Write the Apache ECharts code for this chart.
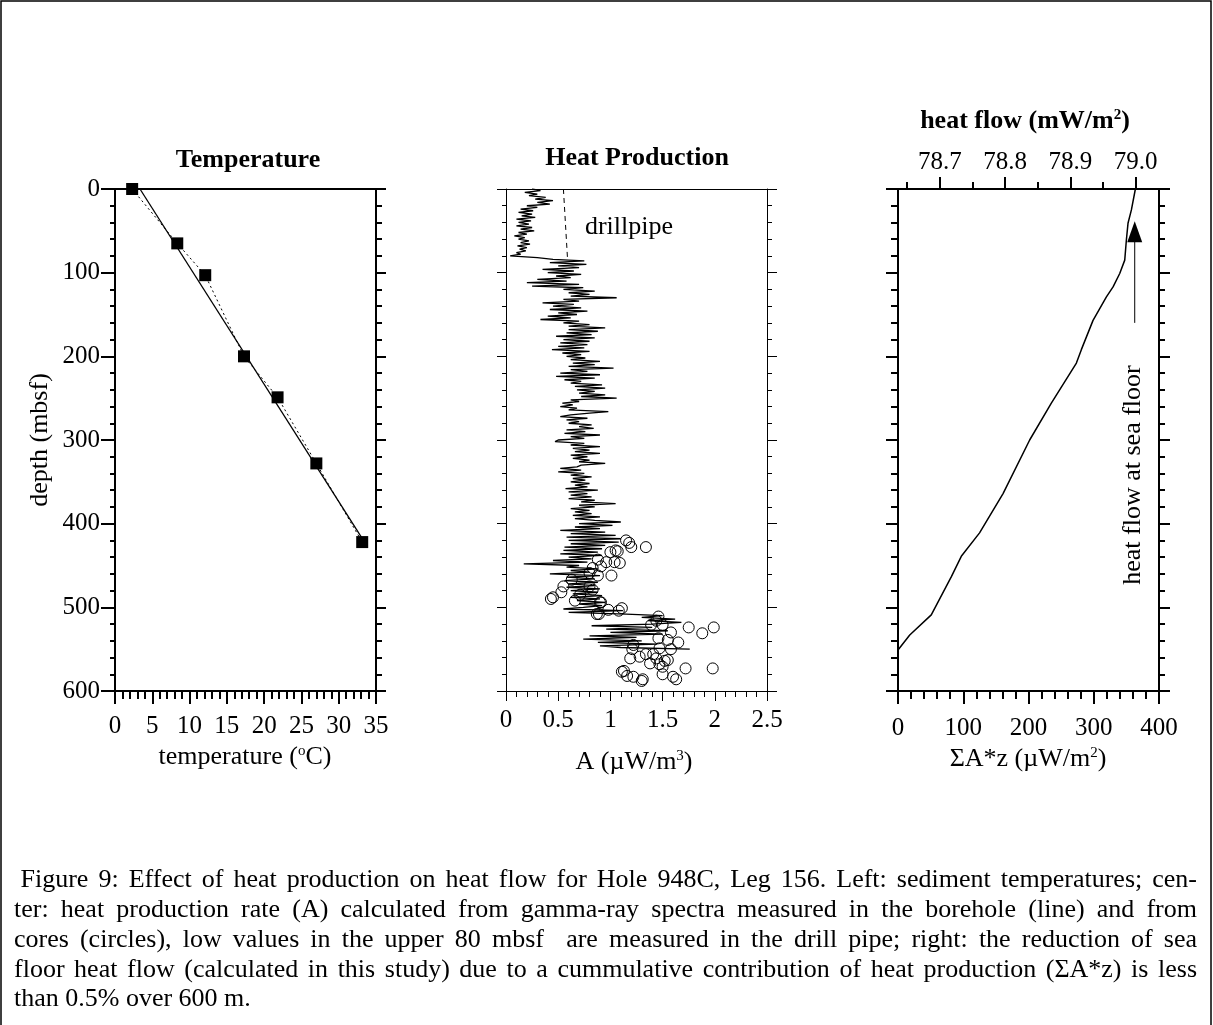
<!DOCTYPE html>
<html><head><meta charset="utf-8">
<script src="https://cdn.jsdelivr.net/npm/echarts@6/dist/echarts.min.js"></script>
<style>html,body{margin:0;padding:0;background:#fff}#c{width:1213px;height:1025px}</style>
</head><body><div id="c"></div>
<script>
// ---------------- DATA ----------------
// Left panel: temperature measurements
const tempC      = [2.3, 8.35, 12.1, 17.3, 21.8, 27.0, 33.15];
const tempDepth  = [0, 65, 103, 200, 249, 328, 422];
// linear fit line
const fitTemp    = [3.35, 33.1];
const fitDepth   = [0, 417];

// Center panel: gamma-ray log heat production (A, uW/m3) vs depth
const logDepth = [
  0,2,4,6,8,10,12,14,16,18, 20,22,24,26,28,30,32,34,36,38,
  40,42,44,46,48,50,52,54,56,58, 60,62,64,66,68,70,72,74,76,78,
  80,82,84,86,88,90,92,94,96,98, 100,102,104,106,108,110,112,114,116,118,
  120,122,124,126,128,130,132,134,136,138, 140,142,144,146,148,150,152,154,156,158,
  160,162,164,166,168,170,172,174,176,178, 180,182,184,186,188,190,192,194,196,198,
  200,202,204,206,208,210,212,214,216,218, 220,222,224,226,228,230,232,234,236,238,
  240,242,244,246,248,250,252,254,256,258, 260,262,264,266,268,270,272,274,276,278,
  280,282,284,286,288,290,292,294,296,298, 300,302,304,306,308,310,312,314,316,318,
  320,322,324,326,328,330,332,334,336,338, 340,342,344,346,348,350,352,354,356,358,
  360,362,364,366,368,370,372,374,376,378, 380,382,384,386,388,390,392,394,396,398,
  400,402,404,406,408,410,412,414,416,418, 420,422,424,426,428,430,432,434,436,438,
  440,442,444,446,448,450,452,454,456,458, 460,462,464,466,468,470,472,474,476,478,
  480,482,484,486,488,490,492,494,496,498, 500,502,504,506,508,510,512,514,516,518,
  520,522,524,526,528,530,532,534,536,538, 540,542,544,546,548,550
];
const logA = [
  0.25,0.33,0.18,0.30,0.22,0.38,0.28,0.45,0.30,0.42, 0.20,0.30,0.14,0.26,0.12,0.25,0.15,0.28,0.10,0.24,
  0.12,0.22,0.10,0.25,0.14,0.27,0.12,0.20,0.08,0.18, 0.12,0.22,0.14,0.23,0.11,0.20,0.13,0.19,0.10,0.14,
  0.04,0.30,0.45,0.75,0.42,0.77,0.50,0.70,0.35,0.65, 0.40,0.72,0.48,0.62,0.30,0.58,0.20,0.70,0.25,0.74,
  0.55,0.85,0.60,0.80,0.62,1.06,0.55,0.70,0.35,0.65, 0.45,0.72,0.42,0.78,0.50,0.68,0.40,0.62,0.33,0.70,
  0.55,0.80,0.60,0.95,0.60,0.88,0.58,0.82,0.48,0.85, 0.55,0.80,0.52,0.78,0.50,0.75,0.44,0.80,0.54,0.72,
  0.58,0.76,0.62,0.90,0.64,0.85,0.60,1.03,0.62,0.78, 0.52,0.90,0.48,0.85,0.56,0.72,0.62,0.92,0.66,0.95,
  0.68,0.85,0.70,0.95,0.72,1.06,0.62,0.70,0.54,0.64, 0.52,0.68,0.60,0.98,0.80,0.62,0.52,0.78,0.58,0.70,
  0.60,0.82,0.70,0.84,0.58,0.76,0.56,0.90,0.62,0.75, 0.50,0.47,0.75,0.62,0.90,0.64,0.80,0.66,0.90,0.62,
  0.78,0.64,0.80,0.70,0.95,0.72,0.68,0.52,0.72,0.50, 0.75,0.62,0.82,0.64,0.76,0.62,0.80,0.66,0.78,0.57,
  0.88,0.60,0.78,0.62,0.82,0.60,0.85,0.72,1.05,0.70, 0.85,0.62,0.80,0.66,0.82,0.64,0.90,0.66,0.85,1.10,
  0.70,1.02,0.66,0.90,0.52,0.95,0.62,1.05,0.58,1.10, 0.60,1.08,0.62,0.95,0.56,0.92,0.55,0.88,0.52,0.92,
  0.60,0.82,0.45,0.78,0.17,0.70,0.58,0.88,0.62,0.80, 0.42,0.90,0.58,0.85,0.56,0.88,0.60,0.85,0.58,0.90,
  0.62,0.88,0.64,0.92,0.62,0.90,0.68,0.95,0.70,0.92, 0.74,0.55,1.12,0.60,1.15,1.50,1.30,1.62,1.36,1.68,
  1.40,0.82,1.40,0.96,1.55,1.00,1.50,0.80,1.25,0.74, 1.30,0.88,1.45,0.90,1.10,1.76
];
// core measurements (circles)
const coreA = [1.15,1.18,1.20,1.34,1.00,1.05,1.07,0.88,0.96,1.04,1.09,0.83,0.91,1.01,0.88,0.80,0.63,0.55,0.45,0.43,
  0.53,0.66,0.71,0.80,0.83,0.90,0.87,0.89,0.98,1.08,1.11,0.91,1.46,1.44,1.39,1.50,1.58,1.75,1.88,1.99,
  1.46,1.55,1.65,1.58,1.22,1.21,1.19,1.28,1.34,1.41,1.47,1.38,1.47,1.55,1.50,1.11,1.13,1.16,1.22,1.30,
  1.31,1.50,1.60,1.63,1.72,1.98,1.44,1.52];
const coreDepth = [420,423,428,428,434,432,433,443,446,446,447,453,451,462,462,459,467,475,488,490,
  482,492,485,475,479,494,508,508,503,504,501,494,511,516,521,521,530,524,531,524,
  537,539,542,550,545,550,561,559,556,556,549,567,568,563,571,577,576,582,583,588,
  586,580,583,586,573,573,561,564];
// drill pipe dashed line
const pipeA = [0.55, 0.59];
const pipeDepth = [0, 85];

// Right panel: cumulative sum A*z (uW/m2) vs depth
const sumAz    = [363.8,357.7,352.5,350,347.5,339.8,329.6,319.4,298.9,281,273.4,235,201.8,161,125,97,82,51,18,0];
const sumDepth = [0,25,41,61,85,101,117,129,157,192,208,256,300,364,411,439,463,509,533,551];
// arrow "heat flow at sea floor"
const arrowS = 362.8;
const arrowDepth = [160, 51];

// axis ticks
const depthTicks = {min:0, max:600, interval:100};
const tempTicks = {min:0, max:35, interval:5};
const aTicks = {min:0, max:2.5, interval:0.5};
const sTicks = {min:0, max:400, interval:100};
const hfMin = 78.636, hfMax = 79.036;
const hfMajor = [78.7, 78.8, 78.9, 79.0];
const hfMinor = [78.65, 78.75, 78.85, 78.95];

// ---------------- CHART ----------------
const FONT = '"Liberation Serif", "Times New Roman", serif';
const BLACK = '#000';
const chart = echarts.init(document.getElementById('c'), null, {renderer: 'canvas'});

const G0 = {left: 115, top: 189, width: 261, height: 502};
const G1 = {left: 506, top: 189, width: 261, height: 502};
const G2 = {left: 898, top: 189, width: 261, height: 502};

function yAx(grid, pos, lw, showLabel, majLen, minLen) {
  return {
    type: 'value', gridIndex: grid, position: pos, inverse: true,
    min: depthTicks.min, max: depthTicks.max, interval: depthTicks.interval,
    axisLine: {show: true, onZero: false, lineStyle: {color: BLACK, width: lw}},
    axisTick: {show: true, inside: false, length: majLen, lineStyle: {color: BLACK, width: lw}},
    minorTick: {show: true, splitNumber: 5, length: minLen, lineStyle: {color: BLACK, width: lw}},
    axisLabel: {show: showLabel, color: BLACK, fontFamily: FONT, fontSize: 25, margin: 15},
    splitLine: {show: false}, minorSplitLine: {show: false}
  };
}
function xBottom(grid, t, lw, majLen, minLen, margin, fmt) {
  return {
    type: 'value', gridIndex: grid, position: 'bottom',
    min: t.min, max: t.max, interval: t.interval,
    axisLine: {show: true, onZero: false, lineStyle: {color: BLACK, width: lw}},
    axisTick: {show: true, inside: false, length: majLen, lineStyle: {color: BLACK, width: lw}},
    minorTick: {show: true, splitNumber: 5, length: minLen, lineStyle: {color: BLACK, width: lw}},
    axisLabel: {show: true, color: BLACK, fontFamily: FONT, fontSize: 25, margin: margin,
      formatter: fmt || null, showMinLabel: true, showMaxLabel: true},
    splitLine: {show: false}, minorSplitLine: {show: false}
  };
}
function xTopLine(grid, t, lw) {
  return {
    type: 'value', gridIndex: grid, position: 'top', min: t.min, max: t.max, interval: t.interval,
    axisLine: {show: true, onZero: false, lineStyle: {color: BLACK, width: lw}},
    axisTick: {show: false}, axisLabel: {show: false}, splitLine: {show: false}
  };
}
function hiddenY(grid) {
  return {type: 'value', gridIndex: grid, show: false, inverse: true, min: 0, max: 600};
}
function zip(a, b) { return a.map((v, i) => [v, b[i]]); }

const sup = {fontSize: 15, fontFamily: FONT, verticalAlign: 'top', padding: [0, 0, 0, 0]};
function txt(x, y, text, size, weight, rot, richSup) {
  const el = {type: 'text', x: x, y: y, z: 100,
    style: {text: text, fontSize: size, fontFamily: FONT, fontWeight: weight || 'normal', fill: BLACK,
      align: 'center', verticalAlign: 'middle'}};
  if (rot) el.rotation = rot;
  if (richSup) el.style.rich = {sup: Object.assign({}, sup, {fontWeight: weight || 'normal'})};
  return el;
}

// Caption, justified
const CAP_SIZE = 26;
const captionLines = [
  ' Figure 9: Effect of heat production on heat flow for Hole 948C, Leg 156. Left: sediment temperatures; cen-',
  'ter: heat production rate (A) calculated from gamma-ray spectra measured in the borehole (line) and from',
  'cores (circles), low values in the upper 80 mbsf  are measured in the drill pipe; right: the reduction of sea',
  'floor heat flow (calculated in this study) due to a cummulative contribution of heat production (\u03A3A*z) is less',
  'than 0.5% over 600 m.'
];
const capY = [880, 910, 940, 970, 999];
const capLeft = 14, capRight = 1197;
const mctx = document.createElement('canvas').getContext('2d');
mctx.font = CAP_SIZE + 'px "Liberation Serif"';
const capEls = [];
captionLines.forEach((line, li) => {
  let left = capLeft;
  const lead = line.match(/^ */)[0].length;
  left += lead * mctx.measureText(' ').width;
  const words = line.replace(/^ +/, '').split(' ');
  const widths = words.map(w => mctx.measureText(w).width);
  const total = widths.reduce((s, v) => s + v, 0);
  const last = li === captionLines.length - 1;
  const gap = last ? mctx.measureText(' ').width : (capRight - left - total) / (words.length - 1);
  let x = left;
  words.forEach((w, i) => {
    if (w.length) capEls.push({type: 'text', x: x, y: capY[li], style: {text: w, fontSize: CAP_SIZE,
      fontFamily: FONT, fill: BLACK, align: 'left', verticalAlign: 'middle'}});
    x += widths[i] + gap;
  });
});

const option = {
  backgroundColor: '#fff',
  animation: false,
  grid: [G0, G1, G2, Object.assign({}, G2), Object.assign({}, G2)],
  xAxis: [
    xBottom(0, tempTicks, 2, 13, 8, 23),
    xTopLine(0, tempTicks, 2),
    xBottom(1, aTicks, 1, 10, 6, 17, v => String(v)),
    xTopLine(1, aTicks, 1),
    xBottom(2, sTicks, 2, 13, 8, 25),
    {
      type: 'value', gridIndex: 3, position: 'top', min: hfMin, max: hfMax,
      axisLine: {show: true, onZero: false, lineStyle: {color: BLACK, width: 2}},
      axisTick: {show: true, inside: false, length: 12, customValues: hfMajor, lineStyle: {color: BLACK, width: 2}},
      axisLabel: {show: true, customValues: hfMajor, color: BLACK, fontFamily: FONT, fontSize: 25, margin: 14,
        formatter: v => v.toFixed(1)},
      splitLine: {show: false}
    },
    {
      type: 'value', gridIndex: 4, position: 'top', min: hfMin, max: hfMax,
      axisLine: {show: false, onZero: false},
      axisTick: {show: true, inside: false, length: 7, customValues: hfMinor, lineStyle: {color: BLACK, width: 2}},
      axisLabel: {show: false}, splitLine: {show: false}
    }
  ],
  yAxis: [
    yAx(0, 'left', 2, true, 14, 5),
    yAx(0, 'right', 2, false, 10, 6),
    yAx(1, 'left', 1, false, 9, 4),
    yAx(1, 'right', 1, false, 10, 5),
    yAx(2, 'left', 2, false, 12, 7),
    yAx(2, 'right', 2, false, 11, 6),
    hiddenY(3),
    hiddenY(4)
  ],
  series: [
    {type: 'line', xAxisIndex: 0, yAxisIndex: 0, data: zip(fitTemp, fitDepth), symbol: 'none',
      lineStyle: {color: BLACK, width: 1.3}, silent: true, z: 2},
    {type: 'line', xAxisIndex: 0, yAxisIndex: 0, data: zip(tempC, tempDepth), symbol: 'none',
      lineStyle: {color: BLACK, width: 1, type: [2, 3]}, silent: true, z: 2},
    {type: 'scatter', xAxisIndex: 0, yAxisIndex: 0, data: zip(tempC, tempDepth), symbol: 'rect', symbolSize: 12,
      itemStyle: {color: BLACK, opacity: 1}, silent: true, z: 3},

    {type: 'line', xAxisIndex: 2, yAxisIndex: 2, data: zip(logA, logDepth), symbol: 'none',
      lineStyle: {color: BLACK, width: 1.3}, silent: true, z: 2},
    {type: 'line', xAxisIndex: 2, yAxisIndex: 2, data: zip(pipeA, pipeDepth), symbol: 'none',
      lineStyle: {color: BLACK, width: 1, type: [5, 4]}, silent: true, z: 2},
    {type: 'scatter', xAxisIndex: 2, yAxisIndex: 2, data: zip(coreA, coreDepth), symbol: 'circle', symbolSize: 11,
      itemStyle: {color: 'rgba(0,0,0,0)', borderColor: BLACK, borderWidth: 1, opacity: 1}, silent: true, z: 3},

    {type: 'line', xAxisIndex: 4, yAxisIndex: 4, data: zip(sumAz, sumDepth), symbol: 'none',
      lineStyle: {color: BLACK, width: 1.5}, silent: true, z: 2},
    {type: 'line', xAxisIndex: 4, yAxisIndex: 4, data: arrowDepth.map(d => [arrowS, d]), symbol: 'none',
      lineStyle: {color: BLACK, width: 1}, silent: true, z: 2},
    {type: 'scatter', xAxisIndex: 4, yAxisIndex: 4, data: [[arrowS, arrowDepth[1]]], symbol: 'triangle',
      symbolSize: [15, 21], itemStyle: {color: BLACK, opacity: 1}, silent: true, z: 3}
  ],
  graphic: [
    {type: 'rect', shape: {x: 1, y: 1, width: 1210, height: 1040}, style: {fill: 'none', stroke: BLACK, lineWidth: 1.5}, silent: true},
    txt(248, 160, 'Temperature', 26, 'bold'),
    txt(637, 158, 'Heat Production', 26, 'bold'),
    txt(1025, 121, 'heat flow (mW/m{sup|2})', 26, 'bold', 0, true),
    txt(245, 757, 'temperature ({sup|o}C)', 26, 'normal', 0, true),
    txt(634, 762, 'A (\u00B5W/m{sup|3})', 26, 'normal', 0, true),
    txt(1028, 759, '\u03A3A*z (\u00B5W/m{sup|2})', 26, 'normal', 0, true),
    txt(40, 440, 'depth (mbsf)', 26, 'normal', Math.PI / 2),
    txt(629, 227, 'drillpipe', 26, 'normal'),
    txt(1133, 475, 'heat flow at sea floor', 26, 'normal', Math.PI / 2)
  ].concat(capEls)
};
chart.setOption(option);
</script>
</body></html>
